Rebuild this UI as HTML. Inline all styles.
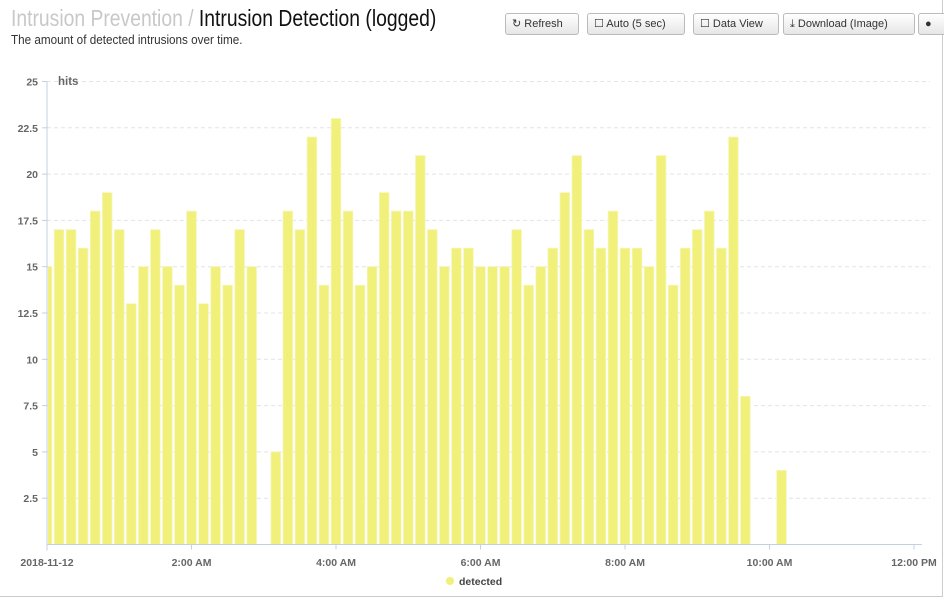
<!DOCTYPE html>
<html><head><meta charset="utf-8"><style>
body{margin:0;width:944px;height:598px;overflow:hidden;background:#fff;font-family:"Liberation Sans",sans-serif;position:relative}
.frame{position:absolute;left:0;top:0;width:942px;height:596px;border-right:1px solid #ccc;border-bottom:1px solid #ccc}
.title{position:absolute;left:11px;top:5px;font-size:23px;color:#111;white-space:nowrap;transform:scaleX(0.84);transform-origin:0 0}
.title .pre{color:#c8c8c8}
.sub{position:absolute;left:11px;top:32px;font-size:13px;color:#333;white-space:nowrap;transform:scaleX(0.9);transform-origin:0 0}
.btn{position:absolute;top:13px;height:20px;border:1px solid #bbb;border-radius:3px;background:linear-gradient(#fff,#e6e6e6);font-size:11px;line-height:20px;color:#333;padding:0 6px;box-sizing:content-box;white-space:nowrap}
svg{position:absolute;left:0;top:0}
</style></head><body>
<div class="frame"></div>
<div class="title"><span class="pre">Intrusion Prevention / </span>Intrusion Detection (logged)</div>
<div class="sub">The amount of detected intrusions over time.</div>
<div class="btn" style="left:505px;width:60px">&#x21bb; Refresh</div>
<div class="btn" style="left:587px;width:84px">&#x2610; Auto (5 sec)</div>
<div class="btn" style="left:693px;width:72px">&#x2610; Data View</div>
<div class="btn" style="left:783px;width:118px">&#x2913; Download (Image)</div>
<div class="btn" style="left:918px;width:20px">&#x25cf;</div>
<svg id="chart" width="944" height="598"></svg>
<script>
const yTicks=[2.5,5,7.5,10,12.5,15,17.5,20,22.5,25];
const xTickLabels=["2018-11-12","2:00 AM","4:00 AM","6:00 AM","8:00 AM","10:00 AM","12:00 PM"];
const xTickHours=[0,2,4,6,8,10,12];
const detected=[15,17,17,16,18,19,17,13,15,17,15,14,18,13,15,14,17,15,0,5,18,17,22,14,23,18,14,15,19,18,18,21,17,15,16,16,15,15,15,17,14,15,16,19,21,17,16,18,16,16,15,21,14,16,17,18,16,22,8,0,0,4];
const NS="http://www.w3.org/2000/svg";
const svg=document.getElementById('chart');
const x0=47,x1=922,pxPerHour=72.25,y0=544.5,pxPerUnit=18.52;
const xScale=h=>x0+h*pxPerHour;
const yScale=v=>y0-v*pxPerUnit;
function mk(tag,attrs){const e=document.createElementNS(NS,tag);for(const k in attrs)e.setAttribute(k,attrs[k]);svg.appendChild(e);return e;}
yTicks.forEach(v=>{
 const g=mk('line',{x1:x0,x2:x1+8,y1:yScale(v),y2:yScale(v),stroke:'#e4e4e4','stroke-dasharray':'4,3'});
 
 
 const t=mk('text',{x:38,y:yScale(v)+4,'text-anchor':'end','font-size':'10.5','font-weight':'bold',fill:'#666'});
 t.textContent=v;
 
 
});
const clip=mk('clipPath',{id:'pc'});
const cr=document.createElementNS(NS,'rect');cr.setAttribute('x',x0+1);cr.setAttribute('y',60);cr.setAttribute('width',x1-x0);cr.setAttribute('height',500);clip.appendChild(cr);
const g=mk('g',{'clip-path':'url(#pc)'});
detected.forEach((v,i)=>{
 if(!v)return;
 const cx=xScale(i/6);
 const r=document.createElementNS(NS,'rect');
 r.setAttribute('x',cx-4.8);r.setAttribute('y',yScale(v));r.setAttribute('width',9.6);r.setAttribute('height',y0-yScale(v));
 r.setAttribute('fill','#f0f07a');r.setAttribute('stroke','#f6f6b8');r.setAttribute('stroke-width','0.8');
 
 
 g.appendChild(r);
});
const ya=mk('line',{x1:x0,x2:x0,y1:yScale(25),y2:y0+6,stroke:'#c5cfe0'});


const xa=mk('line',{x1:x0,x2:x1,y1:y0,y2:y0,stroke:'#c5cfe0'});


yTicks.forEach(v=>{mk('line',{x1:x0-5,x2:x0,y1:yScale(v),y2:yScale(v),stroke:'#c5cfe0'});});
xTickHours.forEach((h,i)=>{
 mk('line',{x1:xScale(h),x2:xScale(h),y1:y0,y2:y0+5,stroke:'#c5cfe0'});
 const t=mk('text',{x:xScale(h),y:566,'text-anchor':'middle','font-size':'10.5','font-weight':'bold',fill:'#666'});
 t.textContent=xTickLabels[i];
 
 
});
const yt=mk('text',{x:58,y:85,'font-size':'11.5','font-weight':'bold',fill:'#666'});
yt.textContent='hits';


const ld=mk('circle',{cx:450,cy:581,r:4,fill:'#f0f07a'});


const lt=mk('text',{x:459,y:585,'font-size':'10.5','font-weight':'bold',fill:'#444'});
lt.textContent='detected';


</script>
</body></html>
